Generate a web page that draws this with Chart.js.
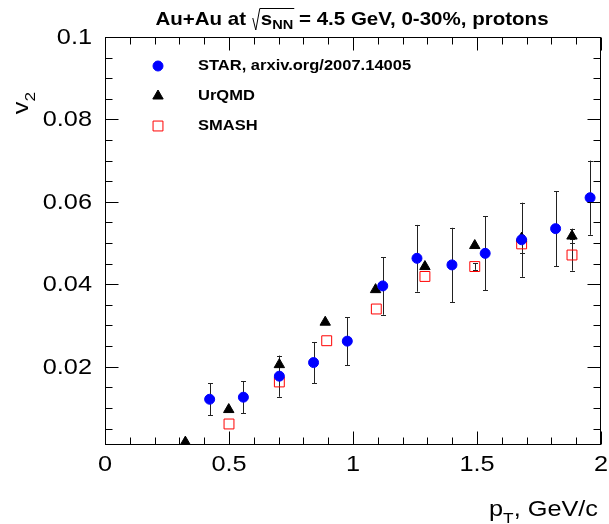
<!DOCTYPE html>
<html>
<head>
<meta charset="utf-8">
<script src="https://cdn.jsdelivr.net/npm/chart.js@4.4.1/dist/chart.umd.min.js"></script>
<style>
  html, body { margin: 0; padding: 0; background: #fff; }
  #wrap { width: 609px; height: 524px; position: relative; }
</style>
</head>
<body>
<div id="wrap"><canvas id="v2-chart"></canvas></div>
<script>
// STAR data (pT, v2, stat error)
var starPt = [0.422, 0.558, 0.703, 0.841, 0.977, 1.120, 1.258, 1.399, 1.533, 1.680, 1.817, 1.956];
var starV2 = [0.0121, 0.0126, 0.0177, 0.0210, 0.0262, 0.0396, 0.0463, 0.0447, 0.0475, 0.0508, 0.0535, 0.0610];
var starErr = [0.0039, 0.0039, 0.0050, 0.0050, 0.0058, 0.0070, 0.0081, 0.0090, 0.0090, 0.0090, 0.0091, 0.0090];

// UrQMD model
var urqmdPt = [0.324, 0.499, 0.703, 0.888, 1.091, 1.290, 1.491, 1.680, 1.883];
var urqmdV2 = [0.0017, 0.0096, 0.0205, 0.0308, 0.0387, 0.0443, 0.0494, 0.0512, 0.0517];
var urqmdErr = [0, 0, 0, 0, 0, 0, 0, 0, 0.0018];

// SMASH model
var smashPt = [0.500, 0.703, 0.894, 1.094, 1.290, 1.491, 1.680, 1.883];
var smashV2 = [0.0061, 0.0163, 0.0263, 0.0340, 0.0419, 0.0443, 0.0498, 0.0471];
var smashErr = [0, 0, 0, 0, 0, 0.0008, 0.0022, 0.0038];

// axis labels
var xTickValues = [0, 0.5, 1, 1.5, 2];
var xTickLabels = ['0', '0.5', '1', '1.5', '2'];
var yTickValues = [0.02, 0.04, 0.06, 0.08, 0.1];
var yTickLabels = ['0.02', '0.04', '0.06', '0.08', '0.1'];
var legendLabels = ['STAR, arxiv.org/2007.14005', 'UrQMD', 'SMASH'];

var FONT = '"Liberation Sans", Arial, Helvetica, sans-serif';
var STRETCH = 1.15; // ROOT fonts come out a bit wider than Liberation

function toPoints(xs, ys, errs) {
  var out = [];
  for (var i = 0; i < xs.length; i++) {
    out.push({ x: xs[i], y: ys[i], err: errs[i] });
  }
  return out;
}

// text with horizontal stretch; align is handled here ('left'|'center'|'right')
function stretchText(ctx, text, x, y, align, sx) {
  var w = ctx.measureText(text).width * sx;
  var x0 = x;
  if (align === 'center') x0 = x - w / 2;
  if (align === 'right') x0 = x - w;
  ctx.save();
  ctx.textAlign = 'left';
  ctx.translate(x0, y);
  ctx.scale(sx, 1);
  ctx.fillText(text, 0, 0);
  ctx.restore();
  return w;
}

// draws error bars, frame, ticks, labels, title, legend
var rootStyle = {
  id: 'rootStyle',
  beforeDatasetsDraw: function (chart) {
    var ctx = chart.ctx;
    var xs = chart.scales.x, ys = chart.scales.y;
    ctx.save();
    ctx.strokeStyle = '#222';
    ctx.lineWidth = 1;
    chart.data.datasets.forEach(function (ds) {
      ds.data.forEach(function (p) {
        if (!p.err) return;
        var px = Math.round(xs.getPixelForValue(p.x)) + 0.5;
        var top = ys.getPixelForValue(p.y + p.err);
        var bot = ys.getPixelForValue(p.y - p.err);
        ctx.beginPath();
        ctx.moveTo(px, top); ctx.lineTo(px, bot);
        ctx.moveTo(px - 2.5, Math.round(top) + 0.5); ctx.lineTo(px + 2.5, Math.round(top) + 0.5);
        ctx.moveTo(px - 2.5, Math.round(bot) + 0.5); ctx.lineTo(px + 2.5, Math.round(bot) + 0.5);
        ctx.stroke();
      });
    });
    ctx.restore();
  },
  afterDraw: function (chart) {
    var ctx = chart.ctx;
    var a = chart.chartArea;
    var xs = chart.scales.x, ys = chart.scales.y;
    var L = Math.round(a.left) + 0.5, R = Math.round(a.right) - 0.5;
    var T = Math.round(a.top) + 0.5, B = Math.round(a.bottom) - 0.5;
    var i, v, p, len;
    ctx.save();
    ctx.strokeStyle = '#000';
    ctx.lineWidth = 1;
    ctx.strokeRect(L, T, R - L, B - T);

    // x ticks (bottom and top), minor every 0.1
    ctx.beginPath();
    for (i = 0; i <= 20; i++) {
      v = i * 0.1;
      p = Math.round(xs.getPixelForValue(v)) + 0.5;
      len = (i % 5 === 0) ? 13 : 7;
      ctx.moveTo(p, B); ctx.lineTo(p, B - len);
      ctx.moveTo(p, T); ctx.lineTo(p, T + len);
    }
    // y ticks (left and right), minor every 0.005
    for (i = 0; i <= 20; i++) {
      v = i * 0.005;
      if (v < ys.min) continue;
      p = Math.round(ys.getPixelForValue(v)) + 0.5;
      len = (i % 4 === 0) ? 13 : 7;
      ctx.moveTo(L, p); ctx.lineTo(L + len, p);
      ctx.moveTo(R, p); ctx.lineTo(R - len, p);
    }
    ctx.stroke();

    // tick labels
    ctx.fillStyle = '#000';
    ctx.font = '22px ' + FONT;
    ctx.textBaseline = 'top';
    for (i = 0; i < xTickValues.length; i++) {
      stretchText(ctx, xTickLabels[i], xs.getPixelForValue(xTickValues[i]), a.bottom + 9, 'center', STRETCH);
    }
    ctx.textBaseline = 'middle';
    for (i = 0; i < yTickValues.length; i++) {
      stretchText(ctx, yTickLabels[i], a.left - 13, ys.getPixelForValue(yTickValues[i]) + 1, 'right', STRETCH);
    }

    // x axis title p_T, GeV/c
    ctx.textBaseline = 'alphabetic';
    var rest = ', GeV/c';
    ctx.font = '22px ' + FONT;
    var wRest = ctx.measureText(rest).width * STRETCH;
    var wP = ctx.measureText('p').width * STRETCH;
    ctx.font = '15px ' + FONT;
    var wT = ctx.measureText('T').width * STRETCH;
    var xStart = 598 - wRest - wT - wP;
    ctx.font = '22px ' + FONT;
    stretchText(ctx, 'p', xStart, 516, 'left', STRETCH);
    stretchText(ctx, rest, xStart + wP + wT, 516, 'left', STRETCH);
    ctx.font = '15px ' + FONT;
    stretchText(ctx, 'T', xStart + wP, 523, 'left', STRETCH);

    // y axis title v_2 (rotated)
    ctx.save();
    ctx.translate(28, 92);
    ctx.rotate(-Math.PI / 2);
    ctx.font = '15px ' + FONT;
    var w2 = stretchText(ctx, '2', 0, 7, 'right', STRETCH);
    ctx.font = '22px ' + FONT;
    stretchText(ctx, 'v', -w2, 0, 'right', STRETCH);
    ctx.restore();

    // title: Au+Au at sqrt(s_NN) = 4.5 GeV, 0-30%, protons
    var big = 'bold 19px ' + FONT, small = 'bold 13.5px ' + FONT;
    var ts = 1.08;
    var t1 = 'Au+Au at ', t2 = 's', t3 = 'NN', t4 = ' = 4.5 GeV, 0-30%, protons';
    ctx.font = big;
    var w1 = ctx.measureText(t1).width * ts, ws = ctx.measureText(t2).width * ts, w4 = ctx.measureText(t4).width * ts;
    ctx.font = small;
    var wn = ctx.measureText(t3).width * ts;
    var rad = 9;
    var total = w1 + rad + ws + wn + w4;
    var x0 = 352 - total / 2, base = 25;
    ctx.font = big;
    stretchText(ctx, t1, x0, base, 'left', ts);
    var xr = x0 + w1;
    ctx.beginPath();
    ctx.moveTo(xr + 1, base - 7);
    ctx.lineTo(xr + 4, base + 5);
    ctx.lineTo(xr + 8, base - 16.5);
    ctx.lineTo(xr + rad + ws + wn + 1, base - 16.5);
    ctx.stroke();
    stretchText(ctx, t2, xr + rad, base, 'left', ts);
    ctx.font = small;
    stretchText(ctx, t3, xr + rad + ws, base + 4, 'left', ts);
    ctx.font = big;
    stretchText(ctx, t4, xr + rad + ws + wn, base, 'left', ts);

    // legend
    var ly = [66, 96, 126];
    ctx.textBaseline = 'middle';
    for (i = 0; i < legendLabels.length; i++) {
      var ds = chart.data.datasets[i];
      ctx.fillStyle = ds.backgroundColor;
      ctx.strokeStyle = ds.borderColor;
      ctx.lineWidth = ds.borderWidth;
      Chart.helpers.drawPoint(ctx, { pointStyle: ds.pointStyle, radius: ds.pointRadius, borderWidth: ds.borderWidth }, 158, ly[i]);
      ctx.fillStyle = '#000';
      ctx.font = 'bold 15px ' + FONT;
      stretchText(ctx, legendLabels[i], 198, ly[i], 'left', 1.1);
    }
    ctx.restore();
  }
};

var chart = new Chart(document.getElementById('v2-chart'), {
  type: 'scatter',
  data: {
    datasets: [{
      label: legendLabels[0],
      data: toPoints(starPt, starV2, starErr),
      pointStyle: 'circle',
      pointRadius: 5,
      backgroundColor: '#0000ff',
      borderColor: '#0000ff',
      borderWidth: 1
    }, {
      label: legendLabels[1],
      data: toPoints(urqmdPt, urqmdV2, urqmdErr),
      pointStyle: 'triangle',
      pointRadius: 6,
      backgroundColor: '#000000',
      borderColor: '#000000',
      borderWidth: 1
    }, {
      label: legendLabels[2],
      data: toPoints(smashPt, smashV2, smashErr),
      pointStyle: 'rect',
      pointRadius: 7,
      backgroundColor: 'rgba(255,255,255,0)',
      borderColor: '#ff0000',
      borderWidth: 1
    }]
  },
  options: {
    responsive: true,
    maintainAspectRatio: false,
    animation: false,
    layout: { padding: { left: 105, right: 6, top: 37, bottom: 79 } },
    plugins: { legend: { display: false }, tooltip: { enabled: false } },
    scales: {
      x: { type: 'linear', min: 0, max: 2, display: false },
      y: { type: 'linear', min: 0.001, max: 0.1, display: false }
    }
  },
  plugins: [rootStyle]
});
</script>
</body>
</html>
